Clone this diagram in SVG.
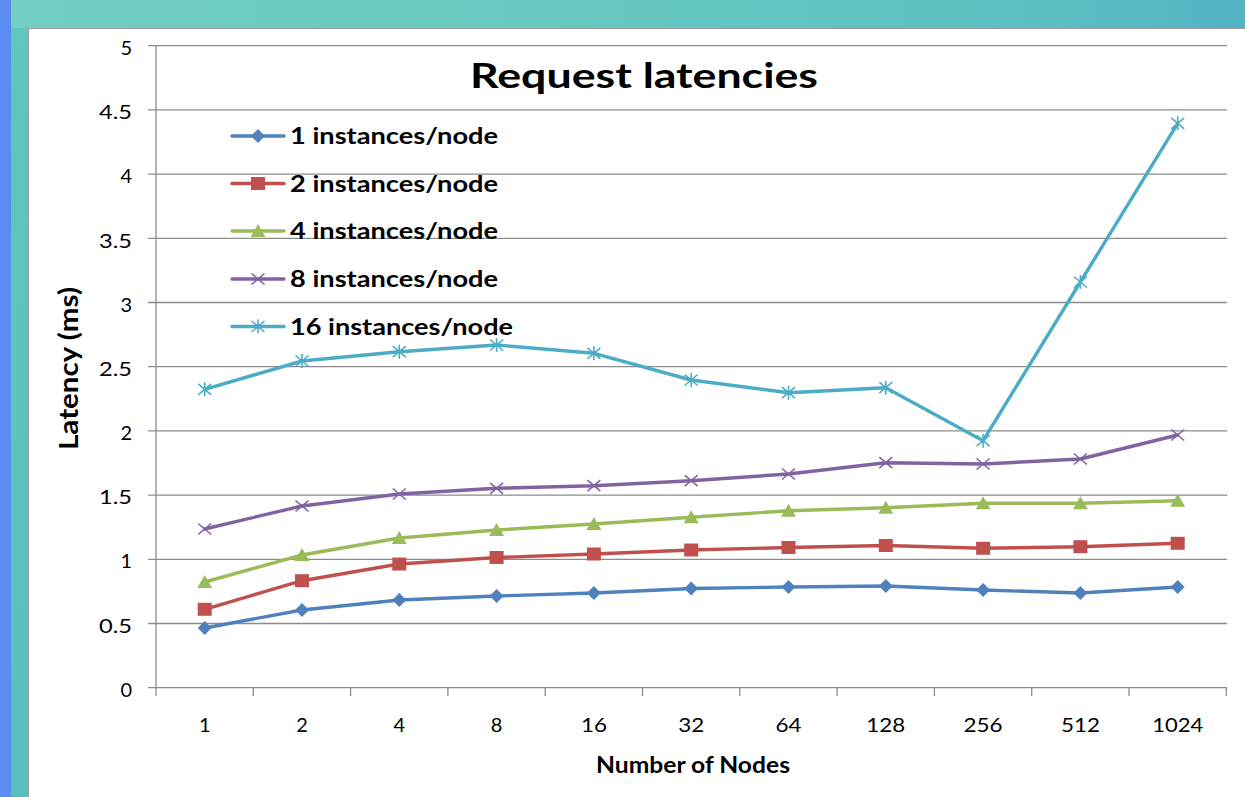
<svg xmlns="http://www.w3.org/2000/svg" width="1245" height="797" viewBox="0 0 1245 797">
<style>
.grid{stroke:#8c8c8c;stroke-width:1.3;fill:none}
.tick{font-family:Lato,"Liberation Sans",sans-serif;font-size:20px;fill:#000}
.leg{font-family:Lato,"Liberation Sans",sans-serif;font-size:22px;font-weight:bold;fill:#000}
.ttl{font-family:Lato,"Liberation Sans",sans-serif;font-weight:bold;fill:#000}
.s{fill:none;stroke-width:3.4;stroke-linejoin:round;stroke-linecap:round}
</style>
<defs>
<linearGradient id="bg" x1="0" y1="0" x2="1" y2="0">
<stop offset="0" stop-color="#72cfc0"/>
<stop offset="0.5" stop-color="#66c8c0"/>
<stop offset="0.85" stop-color="#5cbec2"/>
<stop offset="1" stop-color="#52b4c4"/>
</linearGradient>
<linearGradient id="lft" x1="0" y1="0" x2="0" y2="1">
<stop offset="0" stop-color="#5fc6be"/>
<stop offset="1" stop-color="#58bfbf"/>
</linearGradient>
<marker id="mD" markerUnits="userSpaceOnUse" markerWidth="18" markerHeight="18" refX="9" refY="9" overflow="visible"><path d="M9,2 L16,9 9,16 2,9 Z" fill="#4F81BD"/></marker>
<marker id="mS" markerUnits="userSpaceOnUse" markerWidth="18" markerHeight="18" refX="9" refY="9" overflow="visible"><rect x="2" y="2.5" width="14" height="13" fill="#C0504D"/></marker>
<marker id="mT" markerUnits="userSpaceOnUse" markerWidth="18" markerHeight="18" refX="9" refY="9" overflow="visible"><path d="M9,2 L16.5,15 1.5,15 Z" fill="#9BBB59"/></marker>
<marker id="mX" markerUnits="userSpaceOnUse" markerWidth="18" markerHeight="18" refX="9" refY="9" overflow="visible"><path d="M2.5,3.5 L15.5,14.5 M2.5,14.5 L15.5,3.5" stroke="#8064A2" stroke-width="1.6" fill="none"/></marker>
<marker id="mA" markerUnits="userSpaceOnUse" markerWidth="18" markerHeight="18" refX="9" refY="9" overflow="visible"><path d="M2.5,3.5 L15.5,14.5 M2.5,14.5 L15.5,3.5 M9,2 L9,16" stroke="#4BACC6" stroke-width="1.6" fill="none"/></marker>
</defs>

<g id="background">
<rect x="0" y="0" width="1245" height="797" fill="url(#bg)"/>
<rect x="11" y="28" width="17" height="769" fill="url(#lft)"/>
<rect x="0" y="0" width="11" height="797" fill="#5a8cf3"/>
<rect x="28.5" y="28.5" width="1220" height="775" fill="#ffffff" stroke="#9a9a9a" stroke-width="1"/>
</g>

<g id="grid">
<path class="grid" d="M148,45.7H1227 M148,109.9H1227 M148,174.1H1227 M148,238.3H1227 M148,302.5H1227 M148,366.7H1227 M148,430.9H1227 M148,495.1H1227 M148,559.3H1227 M148,623.5H1227 M148,687.7H1227"/>
<path class="grid" d="M156,45.7V696 M253.3,687.7V696 M350.6,687.7V696 M447.9,687.7V696 M545.2,687.7V696 M642.5,687.7V696 M739.8,687.7V696 M837.1,687.7V696 M934.4,687.7V696 M1031.7,687.7V696 M1129,687.7V696 M1226.3,687.7V696"/>
</g>

<g id="y-labels" class="tick" text-anchor="end">
<text x="132" y="55">5</text>
<text x="132" y="119" textLength="33" lengthAdjust="spacingAndGlyphs">4.5</text>
<text x="132" y="183">4</text>
<text x="132" y="247.5" textLength="33" lengthAdjust="spacingAndGlyphs">3.5</text>
<text x="132" y="311.5">3</text>
<text x="132" y="375.5" textLength="33" lengthAdjust="spacingAndGlyphs">2.5</text>
<text x="132" y="440">2</text>
<text x="132" y="504" textLength="33" lengthAdjust="spacingAndGlyphs">1.5</text>
<text x="132" y="568">1</text>
<text x="132" y="632.5" textLength="33" lengthAdjust="spacingAndGlyphs">0.5</text>
<text x="132" y="696.5">0</text>
</g>

<g id="x-labels" class="tick" text-anchor="middle">
<text x="204.7" y="732">1</text>
<text x="302" y="732">2</text>
<text x="399.3" y="732">4</text>
<text x="496.6" y="732">8</text>
<text x="593.9" y="732" textLength="26" lengthAdjust="spacingAndGlyphs">16</text>
<text x="691.2" y="732" textLength="26" lengthAdjust="spacingAndGlyphs">32</text>
<text x="788.5" y="732" textLength="26" lengthAdjust="spacingAndGlyphs">64</text>
<text x="885.8" y="732" textLength="39" lengthAdjust="spacingAndGlyphs">128</text>
<text x="983.1" y="732" textLength="39" lengthAdjust="spacingAndGlyphs">256</text>
<text x="1080.4" y="732" textLength="39" lengthAdjust="spacingAndGlyphs">512</text>
<text x="1177.7" y="732" textLength="51" lengthAdjust="spacingAndGlyphs">1024</text>
</g>

<g id="titles">
<text class="ttl" x="470" y="88" font-size="34" textLength="348" lengthAdjust="spacingAndGlyphs">Request latencies</text>
<text class="ttl" x="596" y="773" font-size="22" textLength="194" lengthAdjust="spacingAndGlyphs">Number of Nodes</text>
<text class="ttl" font-size="23" textLength="163" lengthAdjust="spacingAndGlyphs" text-anchor="middle" transform="translate(77.5,368.5) rotate(-90) scale(1,1.18)">Latency (ms)</text>
</g>

<g id="connectors">
<polyline id="s5" class="s" stroke="#4BACC6" marker-start="url(#mA)" marker-mid="url(#mA)" marker-end="url(#mA)" points="204.7,389.3 302,361 399.3,351.7 496.6,345 593.9,353.3 691.2,380 788.5,392.7 885.8,387.7 983.1,440.7 1080.4,282 1177.7,123.3"/>
<polyline id="s4" class="s" stroke="#8064A2" marker-start="url(#mX)" marker-mid="url(#mX)" marker-end="url(#mX)" points="204.7,529 302,506 399.3,494 496.6,488.3 593.9,485.7 691.2,480.7 788.5,474 885.8,462.7 983.1,464 1080.4,459 1177.7,435"/>
<polyline id="s3" class="s" stroke="#9BBB59" marker-start="url(#mT)" marker-mid="url(#mT)" marker-end="url(#mT)" points="204.7,582 302,555 399.3,538 496.6,530 593.9,524 691.2,517.3 788.5,510.7 885.8,507.7 983.1,503.3 1080.4,503.3 1177.7,500.7"/>
<polyline id="s2" class="s" stroke="#C0504D" marker-start="url(#mS)" marker-mid="url(#mS)" marker-end="url(#mS)" points="204.7,609.3 302,580.7 399.3,564 496.6,557.5 593.9,554 691.2,550 788.5,547.5 885.8,545.5 983.1,548.3 1080.4,546.7 1177.7,543.3"/>
<polyline id="s1" class="s" stroke="#4F81BD" marker-start="url(#mD)" marker-mid="url(#mD)" marker-end="url(#mD)" points="204.7,628 302,610 399.3,600 496.6,596 593.9,593 691.2,588.5 788.5,587 885.8,586 983.1,590 1080.4,593 1177.7,587"/>
</g>

<g id="legend">
<g id="leg1"><path class="s" stroke="#4F81BD" d="M232,136H284"/><path d="M251,136 L258,129 265,136 258,143 Z" fill="#4F81BD"/><text class="leg" x="290" y="144" textLength="208" lengthAdjust="spacingAndGlyphs">1 instances/node</text></g>
<g id="leg2"><path class="s" stroke="#C0504D" d="M232,183.5H284"/><rect x="251" y="177" width="14" height="13" fill="#C0504D"/><text class="leg" x="290" y="191.5" textLength="208" lengthAdjust="spacingAndGlyphs">2 instances/node</text></g>
<g id="leg3"><path class="s" stroke="#9BBB59" d="M232,231H284"/><path d="M258,224 L265.5,237 250.5,237 Z" fill="#9BBB59"/><text class="leg" x="290" y="239" textLength="208" lengthAdjust="spacingAndGlyphs">4 instances/node</text></g>
<g id="leg4"><path class="s" stroke="#8064A2" d="M232,279H284"/><path d="M251.5,273.5 L264.5,284.5 M251.5,284.5 L264.5,273.5" stroke="#8064A2" stroke-width="1.6"/><text class="leg" x="290" y="287" textLength="208" lengthAdjust="spacingAndGlyphs">8 instances/node</text></g>
<g id="leg5"><path class="s" stroke="#4BACC6" d="M232,326.5H284"/><path d="M251.5,321 L264.5,332 M251.5,332 L264.5,321 M258,319.5 L258,333.5" stroke="#4BACC6" stroke-width="1.6"/><text class="leg" x="290" y="334.5" textLength="223" lengthAdjust="spacingAndGlyphs">16 instances/node</text></g>
</g>
</svg>
